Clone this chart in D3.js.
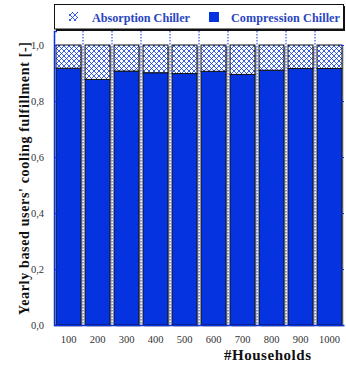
<!DOCTYPE html>
<html>
<head>
<meta charset="utf-8">
<script src="https://cdn.jsdelivr.net/npm/d3@7"></script>
<style>
  body { margin: 0; background: #fff; }
  text { font-family: "Liberation Serif", "DejaVu Serif", serif; }
</style>
</head>
<body>
<div class="chart"></div>
<script>
// chart data
const households = ['100', '200', '300', '400', '500', '600', '700', '800', '900', '1000'];
const compression = [0.917, 0.877, 0.907, 0.901, 0.898, 0.906, 0.895, 0.910, 0.916, 0.916];
const absorption = compression.map(v => 1 - v);
const yTicks = [0, 0.2, 0.4, 0.6, 0.8, 1.0];

const blue = '#0533e0';
const W = 346, H = 365;
const margin = { top: 31, right: 2, bottom: 40, left: 54 };
const width = W - margin.left - margin.right;
const height = H - margin.top - margin.bottom;

const svg = d3.select('.chart')
  .append('svg')
  .attr('width', W)
  .attr('height', H);

// hatch pattern for absorption part
const defs = svg.append('defs');
const pat = defs.append('pattern')
  .attr('id', 'hatch')
  .attr('patternUnits', 'userSpaceOnUse')
  .attr('width', 5)
  .attr('height', 5);
pat.append('rect').attr('width', 5).attr('height', 5).attr('fill', '#fff');
pat.append('path')
  .attr('d', 'M0,0 L5,5 M5,0 L0,5')
  .attr('stroke', blue)
  .attr('stroke-width', 0.8)
  .attr('fill', 'none');

const g = svg.append('g')
  .attr('transform', `translate(${margin.left},${margin.top})`);

// scales
const x = d3.scaleBand()
  .domain(households)
  .range([0, width])
  .paddingInner(0.14)
  .paddingOuter(0.07);

const y = d3.scaleLinear()
  .domain([0, 1.05])
  .range([height, 0]);

// dotted separators between categories
const step = x.step();
g.selectAll('.sep')
  .data(households.slice(1))
  .enter()
  .append('line')
  .attr('class', 'sep')
  .attr('x1', d => x(d) - (step - x.bandwidth()) / 2)
  .attr('x2', d => x(d) - (step - x.bandwidth()) / 2)
  .attr('y1', 0)
  .attr('y2', height)
  .attr('stroke', blue)
  .attr('stroke-width', 1)
  .attr('stroke-dasharray', '1.5,1.5');

// bar shadows
g.selectAll('.shadow')
  .data(households)
  .enter()
  .append('rect')
  .attr('class', 'shadow')
  .attr('x', d => x(d) + 1.5)
  .attr('y', y(1) + 1.5)
  .attr('width', x.bandwidth())
  .attr('height', y(0) - y(1))
  .attr('fill', '#9a9a9a');

// compression part
g.selectAll('.comp')
  .data(compression)
  .enter()
  .append('rect')
  .attr('class', 'comp')
  .attr('x', (d, i) => x(households[i]))
  .attr('y', d => y(d))
  .attr('width', x.bandwidth())
  .attr('height', d => y(0) - y(d))
  .attr('fill', blue)
  .attr('stroke', '#111')
  .attr('stroke-width', 1);

// absorption part stacked on top
g.selectAll('.abs')
  .data(absorption)
  .enter()
  .append('rect')
  .attr('class', 'abs')
  .attr('x', (d, i) => x(households[i]))
  .attr('y', (d, i) => y(compression[i] + d))
  .attr('width', x.bandwidth())
  .attr('height', (d, i) => y(compression[i]) - y(compression[i] + d))
  .attr('fill', 'url(#hatch)')
  .attr('stroke', '#111')
  .attr('stroke-width', 1);

// axes
const yAxis = g.append('g')
  .attr('class', 'y-axis')
  .call(d3.axisLeft(y).tickValues(yTicks).tickSize(-3).tickPadding(10)
    .tickFormat(d => d3.format('.1f')(d).replace('.', ',')));
yAxis.select('.domain').attr('stroke', blue).attr('stroke-width', 1.5);
yAxis.selectAll('.tick line').attr('stroke', blue);
yAxis.selectAll('text')
  .attr('fill', '#333')
  .style('font-size', '10.5px')
  .style('font-family', '"Liberation Serif", serif');

const yRight = g.append('g')
  .attr('transform', `translate(${width},0)`)
  .call(d3.axisRight(y).tickValues(yTicks).tickSize(-3).tickFormat(''));
yRight.select('.domain').remove();
yRight.selectAll('.tick line').attr('stroke', blue);

const xAxis = g.append('g')
  .attr('class', 'x-axis')
  .attr('transform', `translate(0,${height})`)
  .call(d3.axisBottom(x).tickSize(0).tickPadding(11));
xAxis.select('.domain').attr('stroke', blue).attr('stroke-width', 1.5);
xAxis.selectAll('text')
  .attr('fill', '#333')
  .style('font-size', '10.5px')
  .style('font-family', '"Liberation Serif", serif');

// axis labels
svg.append('text')
  .attr('x', 224)
  .attr('y', 360)
  .attr('textLength', 87)
  .attr('lengthAdjust', 'spacing')
  .attr('font-weight', 'bold')
  .attr('font-size', 15)
  .attr('fill', '#111')
  .text('#Households');

svg.append('text')
  .attr('transform', 'translate(29,315) rotate(-90)')
  .attr('textLength', 273)
  .attr('lengthAdjust', 'spacing')
  .attr('font-weight', 'bold')
  .attr('font-size', 14)
  .attr('fill', '#111')
  .text("Yearly based users' cooling fulfillment [-]");

// legend
const lg = svg.append('g');
lg.append('rect')
  .attr('x', 56).attr('y', 6)
  .attr('width', 289).attr('height', 25)
  .attr('fill', '#111');
lg.append('rect')
  .attr('x', 54.5).attr('y', 4.5)
  .attr('width', 289).attr('height', 24.5)
  .attr('fill', '#fff')
  .attr('stroke', '#111')
  .attr('stroke-width', 1);

lg.append('rect')
  .attr('x', 69).attr('y', 12)
  .attr('width', 9).attr('height', 9)
  .attr('fill', 'url(#hatch)');
lg.append('text')
  .attr('x', 92).attr('y', 21.5)
  .attr('textLength', 98)
  .attr('lengthAdjust', 'spacing')
  .attr('font-weight', 'bold')
  .attr('font-size', 12.2)
  .attr('fill', '#2a45c0')
  .text('Absorption Chiller');

lg.append('rect')
  .attr('x', 209).attr('y', 12)
  .attr('width', 10).attr('height', 10)
  .attr('fill', blue);
lg.append('text')
  .attr('x', 231).attr('y', 21.5)
  .attr('textLength', 109)
  .attr('lengthAdjust', 'spacing')
  .attr('font-weight', 'bold')
  .attr('font-size', 12.2)
  .attr('fill', '#2a45c0')
  .text('Compression Chiller');
</script>
</body>
</html>
